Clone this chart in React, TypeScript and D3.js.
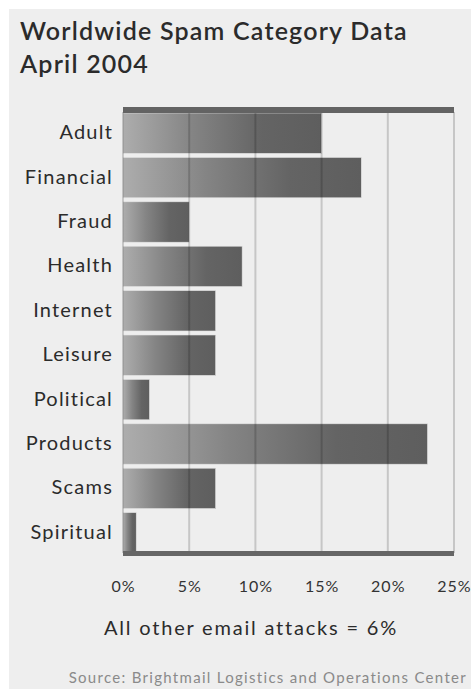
import React from "react";
import * as d3 from "d3";

const categories = ["Adult", "Financial", "Fraud", "Health", "Internet", "Leisure", "Political", "Products", "Scams", "Spiritual"];
const values = [15, 18, 5, 9, 7, 7, 2, 23, 7, 1];
const ticks = [0, 5, 10, 15, 20, 25];
const titleLines = ["Worldwide Spam Category Data", "April 2004"];
const footnote = "All other email attacks = 6%";
const source = "Source: Brightmail Logistics and Operations Center";

const W = 471;
const H = 691;
const FONT = "Lato, 'Open Sans', sans-serif";

export default function App() {
  const x = d3.scaleLinear().domain([0, 25]).range([123, 454]);
  const y = d3.scaleBand<string>().domain(categories).range([113, 553]).paddingInner(0.09).paddingOuter(0);

  return (
    <svg width={W} height={H} style={{ position: "fixed", top: 0, left: 0, background: "#fff" }}>
      <defs>
        <linearGradient id="barGrad" x1="0" x2="1" y1="0" y2="0">
          <stop offset="0" stopColor="#adadad" />
          <stop offset="0.35" stopColor="#848484" />
          <stop offset="0.7" stopColor="#646464" />
          <stop offset="1" stopColor="#5e5e5e" />
        </linearGradient>
      </defs>
      <rect x={9} y={9} width={W - 9} height={680} fill="#eeeeee" />
      {titleLines.map((t, i) => (
        <text key={t} x={20} y={40 + i * 33} fontFamily={FONT} fontSize={25} fontWeight={600} letterSpacing={1.2} fill="#2b2b2b">
          {t}
        </text>
      ))}
      {categories.map((c, i) => (
        <rect
          key={c}
          x={x(0)}
          y={y(c)}
          width={x(values[i]) - x(0)}
          height={y.bandwidth()}
          fill="url(#barGrad)"
          stroke="#e4e4e4"
          strokeWidth={0.6}
        />
      ))}
      {ticks.map((t) => (
        <line key={t} x1={x(t)} x2={x(t)} y1={112} y2={553} stroke="rgba(0,0,0,0.17)" strokeWidth={2} />
      ))}
      <rect x={x(0)} y={107} width={x(25) - x(0)} height={6} fill="#636363" />
      <rect x={x(0)} y={551} width={x(25) - x(0)} height={5} fill="#666" />
      {categories.map((c) => (
        <text
          key={c}
          x={113}
          y={(y(c) as number) + y.bandwidth() / 2 + 6}
          textAnchor="end"
          fontFamily={FONT}
          fontSize={20}
          letterSpacing={1.2}
          fill="#2b2b2b"
        >
          {c}
        </text>
      ))}
      {ticks.map((t) => (
        <text key={t} x={x(t) + 0.5} y={592} textAnchor="middle" fontFamily={FONT} fontSize={16} letterSpacing={1} fill="#333">
          {t}%
        </text>
      ))}
      <text x={251} y={635} textAnchor="middle" fontFamily={FONT} fontSize={20} letterSpacing={1.8} fill="#2b2b2b">
        {footnote}
      </text>
      <text x={467} y={683} textAnchor="end" fontFamily={FONT} fontSize={15} letterSpacing={1.3} fill="#8a8a8a">
        {source}
      </text>
    </svg>
  );
}
